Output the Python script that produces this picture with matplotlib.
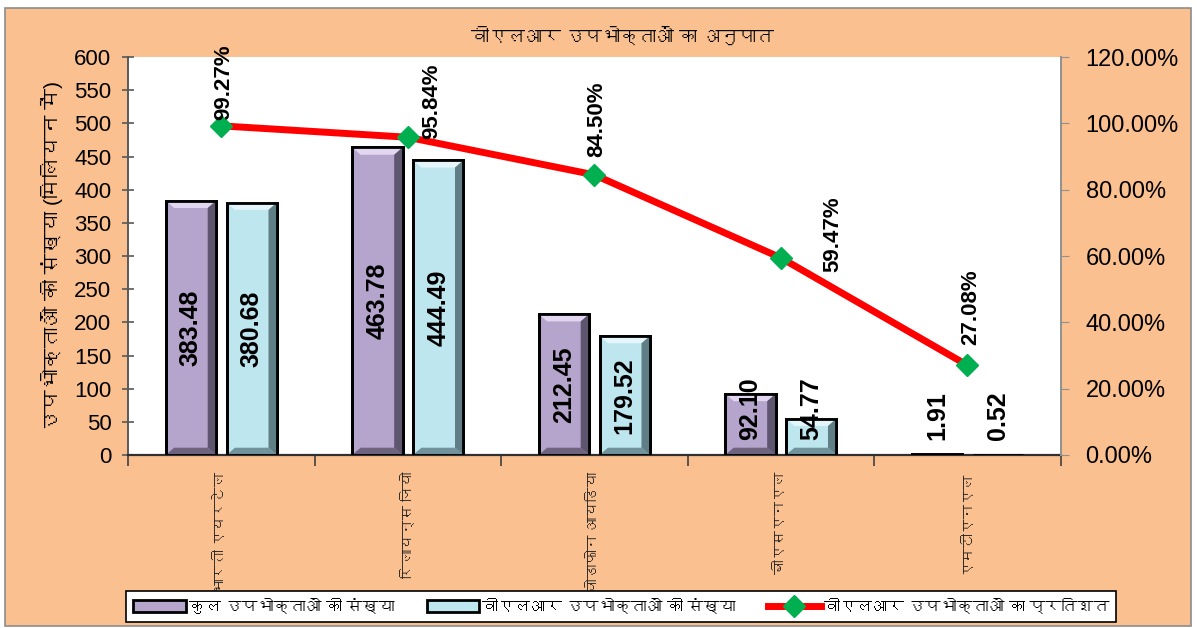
import matplotlib
matplotlib.use("Agg")
import matplotlib.pyplot as plt
from matplotlib import font_manager as fm
from matplotlib.ft2font import FT2Font
from matplotlib.patches import Patch, Rectangle, Polygon
from matplotlib.lines import Line2D
import numpy as np

# ------ data ------
companies = ["भारती एयरटेल", "रिलायन्स जियो", "वोडाफोन आयडिया", "बीएसएनएल", "एमटीएनएल"]
total_subs = [383.48, 463.78, 212.45, 92.10, 1.91]
vlr_subs = [380.68, 444.49, 179.52, 54.77, 0.52]
vlr_pct = [99.27, 95.84, 84.50, 59.47, 27.08]

title = "वीएलआर उपभोक्ताओं का अनुपात"
ylabel = "उपभोक्ताओं की संख्या (मिलियन में)"
legend_labels = ["कुल उपभोक्ताओं की संख्या", "वीएलआर उपभोक्ताओं की संख्या",
                 "वीएलआर उपभोक्ताओं का प्रतिशत"]

# ------ font with devanagari glyphs, if any ------
deva = []
for f in fm.fontManager.ttflist:
    if f.name in deva:
        continue
    try:
        if 0x0915 in FT2Font(f.fname).get_charmap():
            deva.append(f.name)
    except Exception:
        pass
fams = ["Liberation Sans"] + deva + ["DejaVu Sans"]
plt.rcParams["font.family"] = fams
narrow = ["Liberation Sans Narrow", "Liberation Sans"] + deva + ["DejaVu Sans"]

c_purple, c_purple_l, c_purple_d = "#B5A4CB", "#E2D6F0", "#5E556E"
c_cyan, c_cyan_l, c_cyan_d = "#BEE6EF", "#E4F6FA", "#5F7E86"
orange = "#FAC090"

fig = plt.figure(figsize=(11.97, 6.28), dpi=100, facecolor="white")
fig.patches.append(Rectangle((0.004, 0.003), 0.991, 0.984, transform=fig.transFigure,
                             facecolor=orange, edgecolor="#8C8C8C", lw=1.2, zorder=-10))

ax = fig.add_axes([0.107, 0.2755, 0.779, 0.6335])
ax.set_facecolor("white")
x = np.arange(len(companies))
w = 0.27
off = 0.163


def bevel(xc, h, face, light, dark):
    # simple bevelled bar: face, lighter top, darker right and bottom
    x0, x1 = xc - w / 2, xc + w / 2
    bx, by = 0.045, min(11.0, h * 0.3)
    ax.add_patch(Polygon([(x0, h), (x1, h), (x1 - bx, h - by), (x0 + bx, h - by)],
                         closed=True, facecolor=light, edgecolor="none", zorder=3))
    ax.add_patch(Polygon([(x1, h), (x1, 0), (x1 - bx, by), (x1 - bx, h - by)],
                         closed=True, facecolor=dark, edgecolor="none", zorder=3))
    ax.add_patch(Polygon([(x0, 0), (x1, 0), (x1 - bx, by), (x0 + bx, by)],
                         closed=True, facecolor=dark, edgecolor="none", alpha=0.8, zorder=3))


b1 = ax.bar(x - off, total_subs, w, color=c_purple, edgecolor="black", lw=2, zorder=2)
b2 = ax.bar(x + off, vlr_subs, w, color=c_cyan, edgecolor="black", lw=2, zorder=2)
for i in range(len(companies)):
    bevel(x[i] - off, total_subs[i], c_purple, c_purple_l, c_purple_d)
    bevel(x[i] + off, vlr_subs[i], c_cyan, c_cyan_l, c_cyan_d)
for r in list(b1) + list(b2):
    ax.add_patch(Rectangle(r.get_xy(), r.get_width(), r.get_height(), fill=False,
                           edgecolor="black", lw=2, zorder=4))

for xs, vals in [(x - off, total_subs), (x + off, vlr_subs)]:
    for xi, v in zip(xs, vals):
        if v > 150:
            ax.text(xi, v / 2, "%.2f" % v, rotation=90, ha="center", va="center",
                    fontsize=18, fontweight="bold", family=narrow, zorder=5)
        else:
            ax.text(xi, 22, "%.2f" % v, rotation=90, ha="center", va="bottom",
                    fontsize=18, fontweight="bold", family=narrow, zorder=5)

ax.set_xlim(-0.5, len(companies) - 0.5)
ax.set_ylim(0, 600)
ax.set_yticks(np.arange(0, 601, 50))
ax.tick_params(axis="y", labelsize=16, direction="inout", length=8, width=1.2,
               color="#595959", pad=8)
ax.set_xticks(x)
ax.set_xticklabels(companies, rotation=90, fontsize=10.5, color="#222222")
ax.set_xticks(np.arange(-0.5, len(companies)), minor=True)
ax.tick_params(axis="x", which="major", length=0, pad=12)
ax.tick_params(axis="x", which="minor", length=8, width=1.2, direction="out", color="#404040")
ax.spines["top"].set_visible(False)
ax.spines["right"].set_visible(False)
ax.spines["left"].set_color("#595959")
ax.spines["left"].set_linewidth(1.4)
ax.spines["bottom"].set_color("#303030")
ax.spines["bottom"].set_linewidth(1.6)
ax.set_ylabel(ylabel, fontsize=15)
ax.yaxis.set_label_coords(-0.07, 0.5)

ax2 = ax.twinx()
pct = np.array(vlr_pct) / 100
ax2.plot(x, pct, color="#FF0000", lw=5, marker="D", markersize=11,
         markerfacecolor="#00B050", markeredgecolor="#00B050", zorder=6)
ax2.set_ylim(0, 1.2)
ax2.set_yticks(np.arange(0, 1.21, 0.2))
ax2.set_yticklabels(["%.2f%%" % (t * 100) for t in np.arange(0, 1.21, 0.2)])
ax2.tick_params(axis="y", labelsize=17, direction="out", length=6, color="#909090", pad=12)
for s in ["top", "left", "bottom"]:
    ax2.spines[s].set_visible(False)
ax2.spines["right"].set_color("#909090")
ax2.spines["right"].set_linewidth(1.4)

# label offsets (pixels) for the percentage labels
pct_off = [(-8, 6), (13, -2), (-8, 18), (42, -14), (-7, 20)]
for xi, p, v, (dx, dy) in zip(x, pct, vlr_pct, pct_off):
    ax2.annotate("%.2f%%" % v, (xi, p), xytext=(dx, dy), textcoords="offset pixels",
                 rotation=90, ha="left", va="bottom", fontsize=16, fontweight="bold",
                 zorder=7)

fig.text(0.52, 0.94, title, ha="center", va="center", fontsize=13)

handles = [Patch(facecolor=c_purple, edgecolor="black", lw=2),
           Patch(facecolor=c_cyan, edgecolor="black", lw=2),
           Line2D([0], [0], color="#FF0000", lw=5, marker="D", markersize=11,
                  markerfacecolor="#00B050", markeredgecolor="#00B050")]
leg = fig.legend(handles, legend_labels, loc="center", bbox_to_anchor=(0.519, 0.034),
                 ncol=3, fontsize=11.5, frameon=True, fancybox=False, edgecolor="black",
                 framealpha=1, handlelength=3.3, handleheight=0.8, columnspacing=2.0,
                 handletextpad=0.2, borderpad=0.45)
leg.get_frame().set_linewidth(1.2)

fig.savefig("out.png", dpi=100, facecolor="white")
